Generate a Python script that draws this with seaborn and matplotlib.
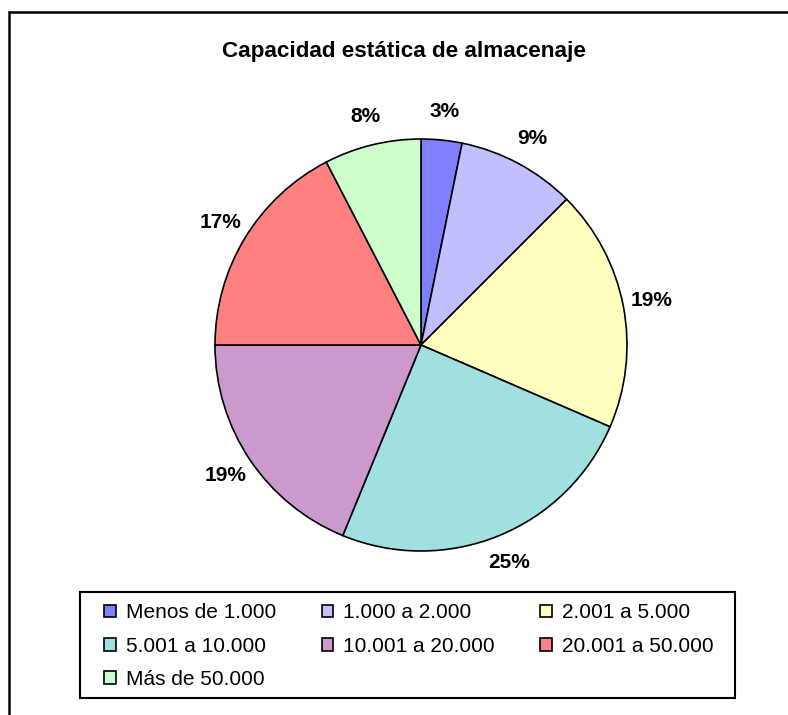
import matplotlib
matplotlib.use("Agg")
import matplotlib.pyplot as plt
import matplotlib.patches as mpatches
import seaborn as sns

# data
categories = [
    "Menos de 1.000",
    "1.000 a 2.000",
    "2.001 a 5.000",
    "5.001 a 10.000",
    "10.001 a 20.000",
    "20.001 a 50.000",
    "Más de 50.000",
]
shares = [3.2, 9.3, 19.0, 24.7, 18.8, 17.4, 7.6]
slice_colors = ["#8080FF", "#C0C0FF", "#FFFFC0", "#A0E0E0", "#CC99CC", "#FF8080", "#CCFFCC"]
title = "Capacidad estática de almacenaje"

sns.set_theme(style="white")
plt.rcParams["font.family"] = ["Liberation Sans", "DejaVu Sans"]
plt.rcParams["text.color"] = "black"

W, H = 788, 715
fig = plt.figure(figsize=(W / 100, H / 100), dpi=100)
fig.patch.set_facecolor("white")

# pie axes: centre (421, 345) px, radius 206 px
R, cx, cy = 206, 421, 345
lim = 1.3
side = 2 * R * lim
ax = fig.add_axes([(cx - side / 2) / W, (H - cy - side / 2) / H, side / W, side / H])

palette = sns.color_palette(slice_colors)
wedges, texts, autotexts = ax.pie(
    shares,
    colors=palette,
    startangle=90,
    counterclock=False,
    autopct=lambda p: f"{p:.0f}%",
    pctdistance=1.14,
    wedgeprops=dict(edgecolor="black", linewidth=1.2),
    textprops=dict(fontsize=15, fontweight="bold", color="black"),
)
ax.set_xlim(-lim, lim)
ax.set_ylim(-lim, lim)
ax.set_aspect("auto")
ax.axis("off")

fig.text(404 / W, (H - 51) / H, title, ha="center", va="center",
         fontsize=16.2, fontweight="bold", color="black")

# legend box drawn separately so the entries can sit further in from the left edge
fig.add_artist(mpatches.Rectangle((80 / W, (H - 698) / H), 655 / W, 106 / H,
                                  transform=fig.transFigure, fill=False,
                                  edgecolor="black", linewidth=1.5))

# legend laid out row by row like the original
handles = [mpatches.Patch(facecolor=c, edgecolor="black", linewidth=1.2) for c in palette]
order = [0, 3, 6, 1, 4, 2, 5]
leg = fig.legend(
    [handles[i] for i in order],
    [categories[i] for i in order],
    ncol=3,
    loc="upper left",
    bbox_to_anchor=(93 / W, 0, 632 / W, (H - 592) / H),
    mode="expand",
    borderaxespad=0,
    fontsize=15,
    labelcolor="black",
    frameon=False,
    handlelength=0.55,
    handleheight=0.55,
    handletextpad=0.5,
    labelspacing=0.68,
    borderpad=0.55,
)

# outer chart border (only top/left fall inside the image)
fig.add_artist(mpatches.Rectangle((9 / W, -0.1), 1.2, (H - 12) / H + 0.1,
                                  transform=fig.transFigure, fill=False,
                                  edgecolor="black", linewidth=1.8, clip_on=False))

fig.savefig("out.png", dpi=100, facecolor="white")
